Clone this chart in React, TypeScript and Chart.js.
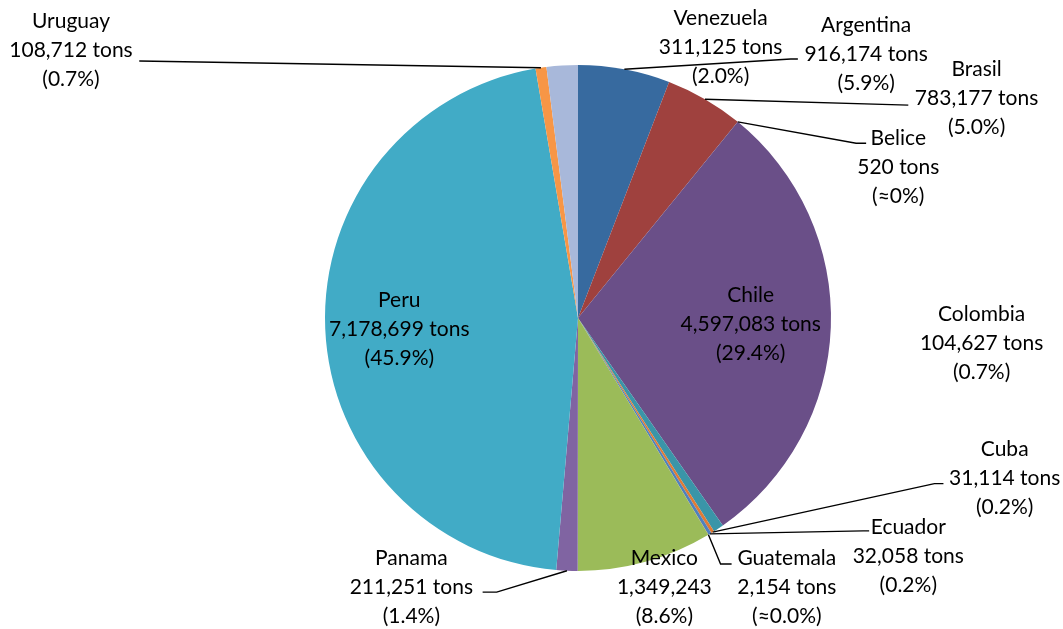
import React, { useEffect, useRef } from "react";
import { Chart, ArcElement, PieController } from "chart.js";

Chart.register(ArcElement, PieController);

// ---- data ----
const countries = [
  "Argentina", "Brasil", "Belice", "Chile", "Colombia", "Cuba", "Ecuador",
  "Guatemala", "Mexico", "Panama", "Peru", "Uruguay", "Venezuela",
];
const tons = [
  916174, 783177, 520, 4597083, 104627, 31114, 32058,
  2154, 1349243, 211251, 7178699, 108712, 311125,
];
const percentLabels = [
  "5.9%", "5.0%", "≈0%", "29.4%", "0.7%", "0.2%", "0.2%",
  "≈0.0%", "8.6%", "1.4%", "45.9%", "0.7%", "2.0%",
];
const unitSuffix = [
  " tons", " tons", " tons", " tons", " tons", " tons", " tons",
  " tons", "", " tons", " tons", " tons", " tons",
];

// ---- styles ----
const sliceColors = [
  "#376A9F", "#9F413E", "#7F9F4A", "#6A4F88", "#3A95A8", "#E07B35", "#4F81BD",
  "#C0504D", "#9BBB59", "#8064A2", "#41ABC6", "#F79646", "#A8B8DA",
];

// label layout: offsets from pie centre (pixels at reference radius 252)
const REF_R = 252;
const labelOffsets: [number, number][] = [
  [287, -263], [397, -219], [319, -150], [172, 6], [402, 25], [425, 160], [329, 237],
  [208, 268], [86, 268], [-166, 268], [-178, 11], [-505, -267], [142, -270],
];
const leaderPoints: [number, number][][] = [
  [[212, -258], [219, -258]],
  [[329, -212]],
  [[277, -174], [287, -174]],
  [],
  [],
  [[355, 165], [364, 165]],
  [[284, 212], [290, 212]],
  [[142, 245], [153, 245]],
  [],
  [[-81, 273], [-95, 273]],
  [],
  [[-437, -256]],
  [],
];

const FONT = '21px Lato, "Noto Sans", "DejaVu Sans", sans-serif';
const LINE_H = 29;

const labelPlugin = {
  id: "pieLabels",
  afterDatasetsDraw(chart: any) {
    const ctx: CanvasRenderingContext2D = chart.ctx;
    const meta = chart.getDatasetMeta(0);
    ctx.save();
    meta.data.forEach((el: any, i: number) => {
      const { x, y, startAngle, endAngle, outerRadius } = el.getProps(
        ["x", "y", "startAngle", "endAngle", "outerRadius"],
        true
      );
      const k = outerRadius / REF_R;
      const mid = (startAngle + endAngle) / 2;
      const pts = leaderPoints[i];
      if (pts.length) {
        ctx.beginPath();
        ctx.strokeStyle = "#000";
        ctx.lineWidth = 1.4;
        ctx.moveTo(x + Math.cos(mid) * outerRadius, y + Math.sin(mid) * outerRadius);
        pts.forEach(([px, py]) => ctx.lineTo(x + px * k, y + py * k));
        ctx.stroke();
      }
      const [ox, oy] = labelOffsets[i];
      const cx = x + ox * k;
      const cy = y + oy * k;
      const lines = [
        countries[i],
        tons[i].toLocaleString("en-US") + unitSuffix[i],
        "(" + percentLabels[i] + ")",
      ];
      ctx.font = FONT;
      ctx.fillStyle = "#000";
      ctx.textAlign = "center";
      ctx.textBaseline = "middle";
      lines.forEach((t, j) => {
        ctx.fillText(t, cx, cy + (j - 1) * LINE_H);
      });
    });
    ctx.restore();
  },
};

export default function App() {
  const ref = useRef<HTMLCanvasElement | null>(null);
  useEffect(() => {
    document.body.style.margin = "0";
    const canvas = ref.current;
    if (!canvas) return;
    const chart = new Chart(canvas, {
      type: "pie",
      data: {
        labels: countries,
        datasets: [
          {
            data: tons,
            backgroundColor: sliceColors,
            borderWidth: 0,
          },
        ],
      },
      options: {
        responsive: false,
        animation: false,
        layout: { padding: { top: 65, bottom: 58, left: 93, right: 0 } },
        plugins: {
          legend: { display: false },
          tooltip: { enabled: false },
        },
      },
      plugins: [labelPlugin],
    });
    return () => chart.destroy();
  }, []);
  return (
    <div style={{ width: 1063, height: 629, background: "#fff" }}>
      <canvas ref={ref} width={1063} height={629} style={{ display: "block" }} />
    </div>
  );
}
